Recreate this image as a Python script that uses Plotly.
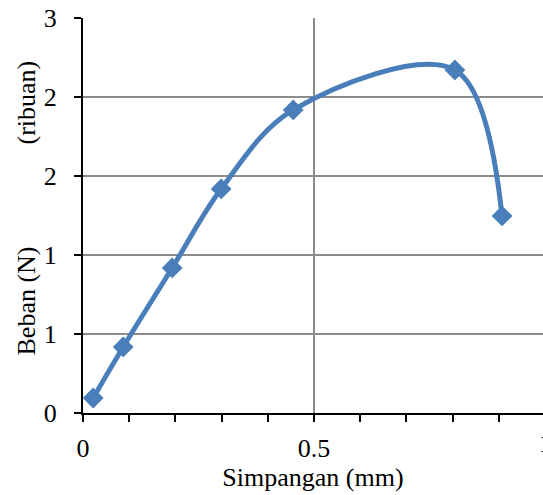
import plotly.graph_objects as go

simpangan = [0.022, 0.087, 0.193, 0.299, 0.455, 0.805, 0.907]
beban_ribuan = [0.095, 0.418, 0.918, 1.418, 1.918, 2.171, 1.247]
y_tickvals = [0, 0.5, 1.0, 1.5, 2.0, 2.5]
y_ticktext = ["0", "1", "1", "2", "2", "3"]
x_tickvals = [0, 0.5]
x_ticktext = ["0", "0.5"]

font_family = "Times New Roman, Liberation Serif, serif"
fs = 26
blue = "#4A7EBB"

fig = go.Figure()
fig.add_trace(go.Scatter(
    x=simpangan, y=beban_ribuan, mode="lines+markers",
    line=dict(color=blue, width=5, shape="spline", smoothing=1),
    marker=dict(symbol="diamond", size=16, color=blue),
    cliponaxis=False, showlegend=False,
))

fig.update_layout(
    width=543, height=495,
    margin=dict(l=83, r=0, t=18, b=82),
    paper_bgcolor="white", plot_bgcolor="white",
    font=dict(family=font_family, size=fs, color="black"),
    xaxis=dict(
        range=[0, 460 / 462], tickvals=x_tickvals, ticktext=x_ticktext,
        showgrid=True, gridcolor="#8c8c8c", gridwidth=1.5,
        showline=True, linecolor="black", linewidth=2,
        ticks="outside", ticklen=7, tickcolor="black", tickwidth=2,
        minor=dict(dtick=0.1, ticks="outside", ticklen=7, tickcolor="black", tickwidth=2, showgrid=False),
        zeroline=False, title=dict(text="Simpangan (mm)", standoff=4, font=dict(family=font_family, size=fs)),
        tickfont=dict(family=font_family, size=fs), ticklabelstandoff=4,
    ),
    yaxis=dict(
        range=[0, 2.5], tickvals=y_tickvals, ticktext=y_ticktext,
        showgrid=True, gridcolor="#8c8c8c", gridwidth=1.5,
        showline=True, linecolor="black", linewidth=2,
        ticks="outside", ticklen=7, tickcolor="black", tickwidth=2,
        zeroline=False, tickfont=dict(family=font_family, size=fs),
        ticklabelstandoff=12,
    ),
    annotations=[
        dict(text="Beban (N)", xref="paper", yref="paper", x=-0.125, y=(413 - 301) / 395,
             textangle=-90, showarrow=False, xanchor="center", yanchor="middle",
             font=dict(family=font_family, size=fs)),
        dict(text="(ribuan)", xref="paper", yref="paper", x=-0.125, y=(413 - 103) / 395,
             textangle=-90, showarrow=False, xanchor="center", yanchor="middle",
             font=dict(family=font_family, size=fs)),
        dict(text="1", xref="paper", yref="paper", x=462 / 460, y=0, yshift=-14,
             showarrow=False, xanchor="center", yanchor="top",
             font=dict(family=font_family, size=fs)),
    ],
)

fig.write_html("out.html")
